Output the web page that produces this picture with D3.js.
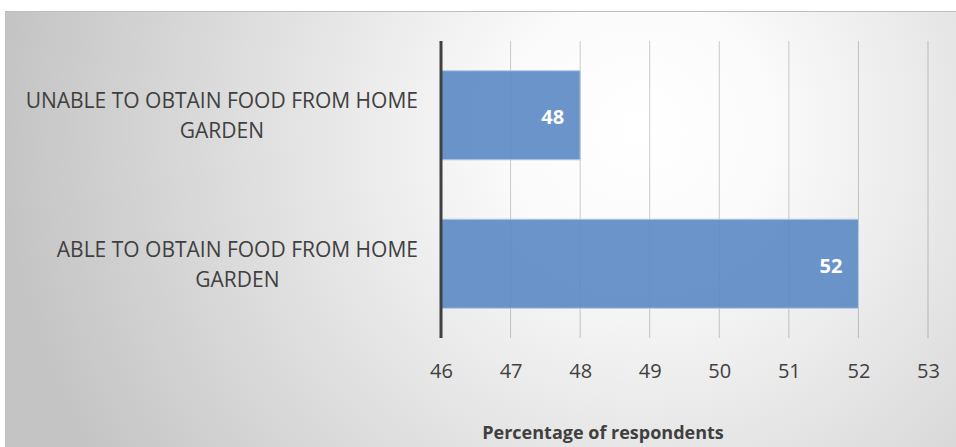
<!DOCTYPE html>
<html>
<head>
<meta charset="utf-8">
<script src="https://cdn.jsdelivr.net/npm/d3@7"></script>
<style>
  body { margin: 0; background: #fff; }
  text { font-family: "Open Sans", "Noto Sans", sans-serif; }
</style>
</head>
<body>
<svg id="chart" width="956" height="447"></svg>
<script>
const categories = ["UNABLE TO OBTAIN FOOD FROM HOME GARDEN", "ABLE TO OBTAIN FOOD FROM HOME GARDEN"];
const labelLines = [["UNABLE TO OBTAIN FOOD FROM HOME", "GARDEN"], ["ABLE TO OBTAIN FOOD FROM HOME", "GARDEN"]];
const values = [48, 52];
const xTicks = [46, 47, 48, 49, 50, 51, 52, 53];
const axisTitle = "Percentage of respondents";

const svg = d3.select("#chart");
const margin = { top: 41, right: 28, bottom: 109, left: 441 };
const width = 956 - margin.left - margin.right;
const height = 447 - margin.top - margin.bottom;

// background
const defs = svg.append("defs");
const grad = defs.append("radialGradient")
    .attr("id", "bg")
    .attr("gradientUnits", "userSpaceOnUse")
    .attr("cx", 640).attr("cy", 130).attr("r", 640);
grad.append("stop").attr("offset", "0%").attr("stop-color", "#ffffff");
grad.append("stop").attr("offset", "20%").attr("stop-color", "#fbfbfb");
grad.append("stop").attr("offset", "100%").attr("stop-color", "#c4c4c4");

svg.append("rect")
    .attr("x", 5.5).attr("y", 11.5)
    .attr("width", 956).attr("height", 440)
    .attr("fill", "url(#bg)")
    .attr("stroke", "#bfbfbf");

const g = svg.append("g").attr("transform", `translate(${margin.left},${margin.top})`);

const x = d3.scaleLinear().domain([46, 53]).range([0, 487]);
const y = d3.scaleBand().domain(categories).range([0, height]).paddingInner(0.4).paddingOuter(0.2);

// gridlines (translucent so they darken with the background)
g.selectAll(".grid")
    .data(xTicks.slice(1))
    .enter()
    .append("line")
    .attr("x1", d => x(d)).attr("x2", d => x(d))
    .attr("y1", 0).attr("y2", height)
    .attr("stroke", "#000")
    .attr("stroke-opacity", 0.2)
    .attr("stroke-width", 1);

// bars
g.selectAll(".bar")
    .data(values)
    .enter()
    .append("rect")
    .attr("x", x(46))
    .attr("y", (d, i) => y(categories[i]))
    .attr("width", d => x(d) - x(46))
    .attr("height", y.bandwidth())
    .attr("fill", "#5b8ac4")
    .attr("fill-opacity", 0.9)
    .attr("stroke", "#b8cce4")
    .attr("stroke-width", 1);

// value labels
g.selectAll(".val")
    .data(values)
    .enter()
    .append("text")
    .attr("x", d => x(d) - 16)
    .attr("y", (d, i) => y(categories[i]) + y.bandwidth() / 2 + 2)
    .attr("dy", "0.35em")
    .attr("text-anchor", "end")
    .attr("fill", "#ffffff")
    .attr("font-weight", "bold")
    .attr("font-size", "20px")
    .text(d => d);

// y axis line
g.append("line")
    .attr("x1", 0).attr("x2", 0)
    .attr("y1", 0).attr("y2", height)
    .attr("stroke", "#404040")
    .attr("stroke-width", 3);

// category labels: block right-aligned near the axis, lines centred in the block
const labelRight = -23;
labelLines.forEach((lines, i) => {
    const t = g.append("text")
        .attr("text-anchor", "middle")
        .attr("fill", "#404040")
        .attr("font-size", "21px");
    const spans = lines.map((ln, j) => t.append("tspan")
        .attr("y", y(categories[i]) + y.bandwidth() / 2 - 7 + j * 30)
        .text(ln));
    const maxW = d3.max(spans, s => s.node().getComputedTextLength());
    spans.forEach(s => s.attr("x", labelRight - maxW / 2));
});

// x axis
const xAxis = g.append("g")
    .attr("transform", `translate(0,${height})`)
    .call(d3.axisBottom(x).tickValues(xTicks).tickFormat(d3.format("d")).tickSize(0).tickPadding(26));
xAxis.select(".domain").remove();
xAxis.selectAll("text")
    .attr("fill", "#404040")
    .attr("font-size", "20px")
    .attr("font-family", "\"Open Sans\", sans-serif");

svg.append("text")
    .attr("x", 603).attr("y", 439)
    .attr("text-anchor", "middle")
    .attr("fill", "#404040")
    .attr("font-weight", "bold")
    .attr("font-size", "18px")
    .text(axisTitle);
</script>
</body>
</html>
